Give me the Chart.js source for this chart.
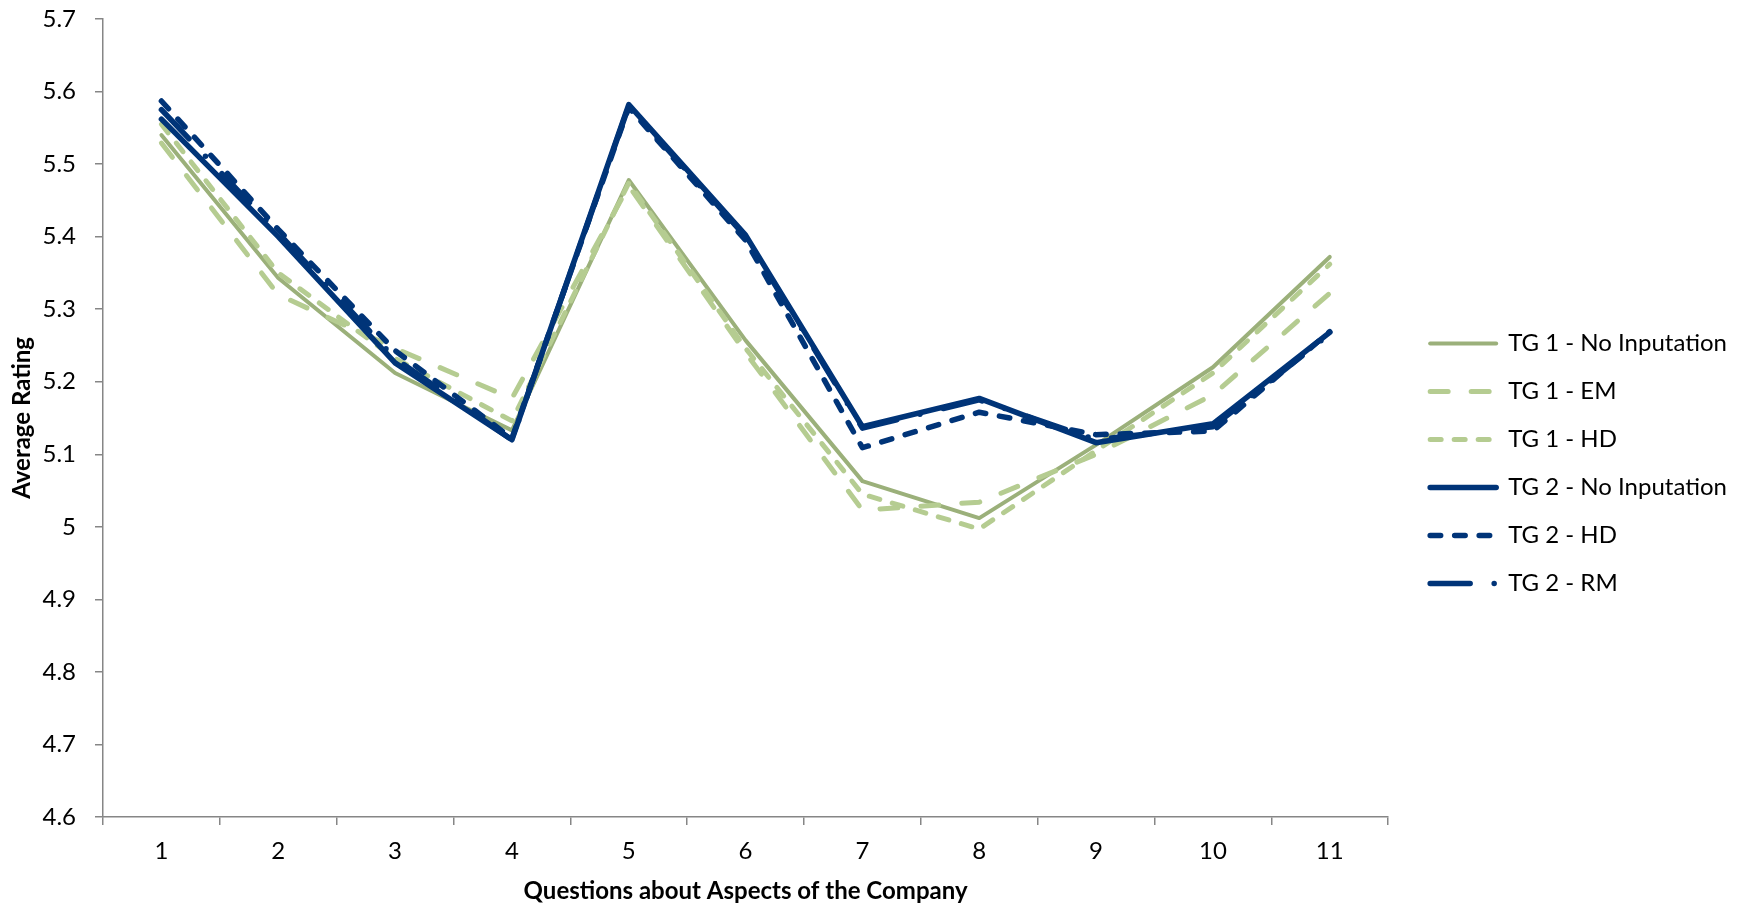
<!DOCTYPE html>
<html>
<head>
<meta charset="utf-8">
<script src="https://cdn.jsdelivr.net/npm/chart.js@4.4.1/dist/chart.umd.min.js"></script>
<style>
  html, body { margin: 0; padding: 0; background: #ffffff; }
  canvas { display: block; }
</style>
</head>
<body>
<canvas id="chart" width="1743" height="906"></canvas>
<script>
// ---------------- data ----------------
const categories = ['1', '2', '3', '4', '5', '6', '7', '8', '9', '10', '11'];

const tg1NoInputation = [5.540, 5.343, 5.212, 5.133, 5.478, 5.257, 5.063, 5.012, 5.113, 5.220, 5.372];
const tg1EM           = [5.529, 5.320, 5.246, 5.177, 5.470, 5.240, 5.023, 5.034, 5.100, 5.182, 5.322];
const tg1HD           = [5.555, 5.350, 5.232, 5.146, 5.474, 5.246, 5.045, 4.997, 5.105, 5.212, 5.362];
const tg2NoInputation = [5.562, 5.400, 5.226, 5.120, 5.582, 5.402, 5.138, 5.177, 5.116, 5.142, 5.268];
const tg2HD           = [5.587, 5.410, 5.243, 5.122, 5.578, 5.395, 5.109, 5.158, 5.127, 5.132, 5.269];
const tg2RM           = [5.575, 5.405, 5.232, 5.120, 5.580, 5.400, 5.136, 5.175, 5.120, 5.138, 5.266];

const seriesNames = ['TG 1 - No Inputation', 'TG 1 - EM', 'TG 1 - HD',
                     'TG 2 - No Inputation', 'TG 2 - HD', 'TG 2 - RM'];

const yTickLabels = ['4.6', '4.7', '4.8', '4.9', '5', '5.1', '5.2', '5.3', '5.4', '5.5', '5.6', '5.7'];
const yMin = 4.6, yMax = 5.7, yStep = 0.1;

const xTitle = 'Questions about Aspects of the Company';
const yTitle = 'Average Rating';

// ---------------- styles ----------------
const FONT = 'Lato, "Open Sans", "Liberation Sans", sans-serif';
const OLIVE = '#9BB07A';
const LIGHT = '#B5CC91';
const NAVY  = '#003478';
const AXIS  = '#868686';

const styles = [
  { color: OLIVE, width: 4,   dash: [] },
  { color: LIGHT, width: 5,   dash: [18, 23] },
  { color: LIGHT, width: 5,   dash: [11, 13] },
  { color: NAVY,  width: 5.5, dash: [] },
  { color: NAVY,  width: 5.5, dash: [10.5, 14] },
  { color: NAVY,  width: 5.5, dash: [40, 24, 0, 24] }
];
const seriesValues = [tg1NoInputation, tg1EM, tg1HD, tg2NoInputation, tg2HD, tg2RM];

const datasets = seriesValues.map((vals, i) => ({
  label: seriesNames[i],
  data: vals,
  borderColor: styles[i].color,
  backgroundColor: styles[i].color,
  borderWidth: styles[i].width,
  borderDash: styles[i].dash,
  borderCapStyle: 'round',
  borderJoinStyle: 'round',
  pointRadius: 0,
  pointHoverRadius: 0,
  tension: 0,
  fill: false,
  order: seriesValues.length - i
}));

const legendShift = { x: 18, y: 1 };
const legendShiftPlugin = {
  id: 'legendShift',
  beforeDraw(chart) {
    const lg = chart.legend;
    if (!lg || lg._shiftPatched) return;
    const orig = lg.draw.bind(lg);
    lg.draw = function (area) {
      this.left += legendShift.x; this.right += legendShift.x;
      this.top += legendShift.y; this.bottom += legendShift.y;
      orig(area);
      this.left -= legendShift.x; this.right -= legendShift.x;
      this.top -= legendShift.y; this.bottom -= legendShift.y;
    };
    lg._shiftPatched = true;
  }
};

function build() {
  new Chart(document.getElementById('chart'), {
    type: 'line',
    data: { labels: categories, datasets },
    plugins: [legendShiftPlugin],
    options: {
      responsive: false,
      animation: false,
      devicePixelRatio: 1,
      layout: { padding: { top: 19, right: 24, bottom: 0, left: 0 } },
      plugins: {
        tooltip: { enabled: false },
        legend: {
          position: 'right',
          labels: {
            usePointStyle: true,
            pointStyleWidth: 66,
            padding: 24,
            color: '#000',
            font: { family: FONT, size: 24 },
            generateLabels(chart) {
              return chart.data.datasets.map((ds, i) => ({
                text: ds.label,
                datasetIndex: i,
                fillStyle: ds.borderColor,
                strokeStyle: ds.borderColor,
                lineWidth: ds.borderWidth,
                lineDash: ds.borderDash,
                lineDashOffset: 0,
                lineCap: 'round',
                lineJoin: 'round',
                pointStyle: 'line',
                hidden: false,
                fontColor: '#000'
              }));
            }
          }
        }
      },
      scales: {
        x: {
          offset: true,
          afterFit(s) { s.height = 89; s.paddingLeft = 0; s.paddingRight = 0; },
          grid: { offset: true, drawOnChartArea: false, drawTicks: true, tickLength: 8, color: AXIS, lineWidth: 1.5 },
          border: { display: true, color: AXIS, width: 1.5 },
          ticks: { color: '#000', font: { family: FONT, size: 24 }, padding: 12, maxRotation: 0, autoSkip: false },
          title: { display: true, text: xTitle, color: '#000', font: { family: FONT, size: 24, weight: 'bold' }, padding: { top: 0, bottom: 0 } }
        },
        y: {
          min: yMin,
          max: yMax,
          afterFit(s) { s.width = 103; s.paddingTop = 0; s.paddingBottom = 0; },
          grid: { drawOnChartArea: false, drawTicks: true, tickLength: 8, color: AXIS, lineWidth: 1.5 },
          border: { display: true, color: AXIS, width: 1.5 },
          ticks: {
            stepSize: yStep,
            color: '#000',
            font: { family: FONT, size: 24 },
            padding: 19,
            callback: (v) => yTickLabels[Math.round((v - yMin) / yStep)]
          },
          title: { display: true, text: yTitle, color: '#000', font: { family: FONT, size: 24, weight: 'bold' }, padding: { top: 8, bottom: 0 } }
        }
      }
    }
  });
}

if (document.fonts && document.fonts.load) {
  Promise.all([
    document.fonts.load('24px Lato'),
    document.fonts.load('bold 24px Lato')
  ]).then(build, build);
} else {
  build();
}
</script>
</body>
</html>
